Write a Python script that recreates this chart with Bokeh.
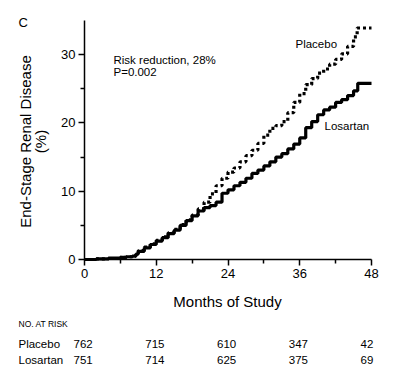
from bokeh.plotting import figure
from bokeh.models import FixedTicker, LinearAxis, Range1d, ColumnDataSource
from bokeh.core.properties import value
from bokeh.embed import file_html
from bokeh.resources import INLINE
import math

# ---------------- data ----------------
placebo_t = [0, 2, 4, 6, 7, 8, 8.6, 9, 10, 11, 12, 13, 14, 15, 16, 17, 18, 19,
             20, 21, 22, 23, 24, 25, 26, 27, 28, 29, 30, 31, 32, 33, 34, 35, 36,
             37, 38, 39, 40, 41, 42, 43, 44, 45, 45.6, 48]
placebo_y = [0, 0.1, 0.15, 0.3, 0.4, 0.5, 0.9, 1.3, 1.8, 2.3, 2.8, 3.3, 3.9, 4.4, 5.1, 5.8, 6.5, 7.4,
             8.4, 9.6, 10.8, 11.9, 12.8, 13.4, 14.3, 15.2, 16.0, 17.0, 18.2, 19.2, 19.6, 20.2, 21.5, 23.0, 24.3,
             25.6, 26.5, 27.3, 27.9, 28.6, 29.3, 30.1, 31.2, 32.6, 33.9, 33.9]

losartan_t = [0, 2, 4, 6, 7, 8, 8.6, 9, 10, 11, 12, 13, 14, 15, 16, 17, 18, 19,
              20, 21, 22, 23, 24, 25, 26, 27, 28, 29, 30, 31, 32, 33, 34, 35, 36,
              37, 38, 39, 40, 41, 42, 43, 44, 45, 45.7, 48]
losartan_y = [0, 0.1, 0.2, 0.3, 0.4, 0.5, 0.8, 1.2, 1.7, 2.2, 2.7, 3.2, 3.8, 4.3, 5.0, 5.7, 6.4, 7.1,
              7.6, 7.9, 8.4, 9.7, 10.2, 10.8, 11.3, 11.9, 12.6, 13.1, 13.7, 14.3, 15.0, 15.5, 16.2, 16.9, 17.8,
              19.3, 20.2, 21.2, 21.9, 22.3, 23.0, 23.4, 24.0, 24.7, 25.8, 25.8]

x_ticks = [0, 12, 24, 36, 48]
x_minor = [6, 18, 30, 42]
y_ticks = [0, 10, 20, 30]
y_minor = [5, 15, 25]

risk_times = [0, 12, 24, 36, 48]
risk_placebo = [762, 715, 610, 347, 42]
risk_losartan = [751, 714, 625, 375, 69]

# ---------------- geometry ----------------
X0, X1 = 0, 48
Y0, Y1 = 0, 35
FL, FR, FT, FB = 84, 371, 20, 259   # axis extents in canvas pixels
PXX = (FR - FL) / (X1 - X0)
PXY = (FB - FT) / (Y1 - Y0)

def dx(px):
    return X0 + (px - FL) / PXX

def dy(py):
    return Y0 + (FB - py) / PXY

FONT = "Liberation Sans"
W, H = 392, 365

p = figure(width=W, height=H, output_backend="svg", toolbar_location=None,
           x_range=Range1d(dx(0), dx(W)), y_range=Range1d(dy(H), dy(0)),
           x_axis_location=None, y_axis_location=None,
           min_border=0, min_border_left=0, min_border_right=0,
           min_border_top=0, min_border_bottom=0)
p.outline_line_color = None
p.xgrid.visible = False
p.ygrid.visible = False
p.background_fill_color = "white"
p.border_fill_color = "white"

xa = LinearAxis(fixed_location=0, bounds=(X0, X1),
                ticker=FixedTicker(ticks=x_ticks, minor_ticks=x_minor))
ya = LinearAxis(fixed_location=0, bounds=(Y0, Y1),
                ticker=FixedTicker(ticks=y_ticks, minor_ticks=y_minor))
for ax in (xa, ya):
    ax.axis_line_width = 1.5
    ax.axis_line_color = "black"
    ax.major_tick_line_width = 1.5
    ax.minor_tick_line_width = 1.5
    ax.major_tick_line_color = "black"
    ax.minor_tick_line_color = "black"
    ax.major_tick_in = 0
    ax.major_tick_out = 6
    ax.minor_tick_in = 0
    ax.minor_tick_out = 4
    ax.major_label_text_font = FONT
    ax.major_label_text_font_size = "13px"
    ax.major_label_text_color = "black"
    ax.major_label_standoff = 3
p.add_layout(xa, "below")
p.add_layout(ya, "left")

# curves
p.step(placebo_t, placebo_y, mode="after", line_color="black", line_width=3.2,
       line_dash="3 3")
p.step(losartan_t, losartan_y, mode="after", line_color="black", line_width=3.2)

def lab(px, py, text, size, align="left", angle=0.0):
    p.text(x=[dx(px)], y=[dy(py)], text=[text], text_font=value(FONT),
           text_font_size=value(size), text_align=align, text_baseline="middle",
           angle=angle, text_color="black")

# panel letter
lab(18, 22, "C", "13px")
# y-axis title (two lines)
lab(25, 141, "End-Stage Renal Disease", "15px", align="center", angle=math.pi / 2)
lab(40, 141, "(%)", "15px", align="center", angle=math.pi / 2)
# x-axis title
lab(227, 301, "Months of Study", "15px", align="center")

# annotations
lab(113, 59, "Risk reduction, 28%", "11.5px")
lab(113, 71, "P=0.002", "11.5px")
lab(295, 43, "Placebo", "11.5px")
lab(324, 125, "Losartan", "11.5px")

# at-risk table
lab(18, 323, "NO. AT RISK", "8.5px")
lab(18, 343, "Placebo", "11.5px")
lab(18, 359, "Losartan", "11.5px")

src_p = ColumnDataSource(dict(x=risk_times, y=[dy(343)] * len(risk_times),
                              t=[str(v) for v in risk_placebo]))
src_l = ColumnDataSource(dict(x=risk_times, y=[dy(359)] * len(risk_times),
                              t=[str(v) for v in risk_losartan]))
for src in (src_p, src_l):
    p.text(x="x", y="y", text="t", source=src, x_offset=-11,
           text_font=value(FONT), text_font_size=value("11.5px"),
           text_align="left", text_baseline="middle", text_color="black")

open("out.html", "w").write(file_html(p, INLINE))
